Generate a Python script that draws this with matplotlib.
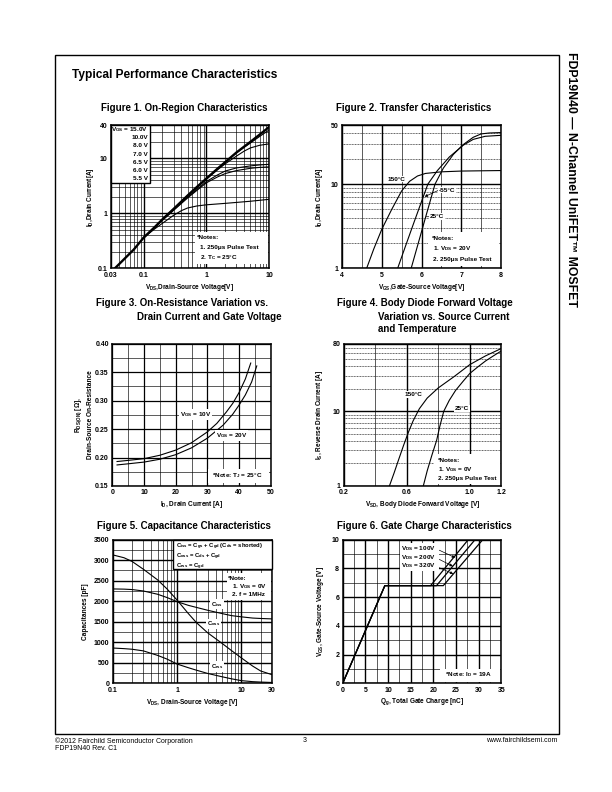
import numpy as np
import matplotlib
matplotlib.use('Agg')
import matplotlib.pyplot as plt
from matplotlib.ticker import FixedLocator, NullFormatter
from matplotlib.patches import Rectangle

plt.rcParams['font.family'] = ['Liberation Sans', 'DejaVu Sans']
plt.rcParams['font.weight'] = 'bold'
plt.rcParams['axes.labelweight'] = 'bold'
plt.rcParams['mathtext.fontset'] = 'custom'
plt.rcParams['mathtext.rm'] = 'Liberation Sans:bold'
plt.rcParams['mathtext.it'] = 'Liberation Sans:bold'
plt.rcParams['mathtext.bf'] = 'Liberation Sans:bold'
plt.rcParams['mathtext.default'] = 'rm'

# ---------------- data ----------------
# Figure 1: On-Region Characteristics
f1_vgs_labels = ['15.0V', '10.0V', '8.0 V', '7.0 V', '6.5 V', '6.0 V', '5.5 V']
f1_vds_15 = [0.035, 0.05, 0.07, 0.1, 0.15, 0.2, 0.3, 0.5, 0.7, 1, 1.5, 2, 3, 5, 7, 10]
f1_id_15 = [0.10, 0.15, 0.22, 0.36, 0.56, 0.78, 1.2, 2.1, 3.0, 4.3, 6.5, 8.6, 12.8, 20, 27, 37.5]
f1_vds_10 = [0.1, 0.2, 0.5, 1, 1.5, 2, 3, 4, 5, 7, 10]
f1_id_10 = [0.36, 0.78, 2.1, 4.3, 6.5, 8.6, 12.6, 16, 19, 25, 33]
f1_vds_8 = [0.1, 0.2, 0.5, 1, 1.5, 2, 3, 4, 5, 7, 10]
f1_id_8 = [0.36, 0.77, 2.05, 4.2, 6.2, 8.0, 11.0, 13.6, 15.5, 17.3, 18.4]
f1_vds_7 = [0.1, 0.2, 0.5, 0.7, 1, 1.5, 2, 3, 5, 7, 10]
f1_id_7 = [0.36, 0.76, 1.95, 2.7, 3.8, 5.0, 5.9, 6.7, 7.3, 7.6, 7.8]
f1_vds_65 = [0.1, 0.2, 0.5, 0.7, 1, 1.5, 2, 3, 5, 7, 10]
f1_id_65 = [0.36, 0.75, 1.9, 2.6, 3.6, 4.6, 5.3, 6.0, 6.6, 6.85, 7.0]
f1_vds_6 = [0.1, 0.15, 0.2, 0.3, 0.4, 0.5, 0.7, 1, 2, 3, 5, 10]
f1_id_6 = [0.36, 0.52, 0.66, 0.92, 1.12, 1.25, 1.36, 1.43, 1.52, 1.58, 1.66, 1.8]

# Figure 2: Transfer Characteristics
f2_vgs_150 = [4.62, 4.8, 5.0, 5.25, 5.5, 5.7, 5.9, 6.1, 6.5, 7.0, 8.0]
f2_id_150 = [1.0, 1.7, 2.9, 5.0, 8.3, 10.8, 12.5, 13.4, 14.0, 14.3, 14.5]
f2_vgs_m55 = [5.40, 5.6, 5.8, 6.0, 6.16, 6.4, 6.7, 7.05, 7.3, 7.6, 8.0]
f2_id_m55 = [1.0, 1.85, 3.4, 6.2, 10, 14.5, 21, 29, 34, 37, 38]
f2_vgs_25 = [5.74, 5.9, 6.1, 6.34, 6.55, 6.8, 7.05, 7.3, 7.5, 7.7, 8.0]
f2_id_25 = [1.0, 1.85, 4.0, 10, 15.5, 22.5, 29.5, 36, 39.5, 40.5, 41]

# Figure 3: On-Resistance vs Drain Current
f3_id_10v = [1.5, 5, 10, 15, 20, 25, 30, 33, 36, 38, 40, 42, 43.7]
f3_r_10v = [0.193, 0.195, 0.198, 0.204, 0.213, 0.226, 0.245, 0.260, 0.280, 0.295, 0.314, 0.338, 0.366]
f3_id_20v = [1.5, 5, 10, 15, 20, 25, 30, 35, 38, 40, 42, 44, 45.6]
f3_r_20v = [0.187, 0.189, 0.192, 0.197, 0.205, 0.217, 0.234, 0.257, 0.276, 0.292, 0.310, 0.333, 0.361]

# Figure 4: Body Diode Forward Voltage
f4_vsd_150 = [0.49, 0.52, 0.55, 0.58, 0.61, 0.64, 0.68, 0.73, 0.8, 0.9, 1.0, 1.1, 1.2]
f4_is_150 = [1.0, 1.5, 2.3, 3.5, 5.2, 7.4, 10.8, 15, 20.5, 29, 42, 55, 69]
f4_vsd_25 = [0.705, 0.73, 0.76, 0.79, 0.81, 0.835, 0.87, 0.91, 0.96, 1.0, 1.05, 1.1, 1.15, 1.2]
f4_is_25 = [1.0, 1.6, 2.6, 4.1, 6.3, 10, 14, 19, 25.5, 32, 39, 47, 55, 64]

# Figure 5: Capacitance Characteristics
f5_vds = [0.1, 0.15, 0.2, 0.3, 0.5, 0.7, 1, 1.5, 2, 3, 5, 7, 10, 15, 20, 30]
f5_ciss = [2300, 2295, 2285, 2250, 2170, 2090, 1990, 1900, 1850, 1780, 1700, 1650, 1620, 1590, 1580, 1570]
f5_coss = [3130, 3060, 2970, 2780, 2520, 2300, 2030, 1700, 1480, 1230, 975, 800, 620, 420, 300, 210]
f5_crss = [860, 845, 830, 790, 680, 590, 470, 380, 320, 240, 160, 110, 65, 40, 30, 20]

# Figure 6: Gate Charge
f6_qg_100 = [0, 9.3, 19.4, 27.7]
f6_vgs_100 = [0, 6.8, 6.8, 10]
f6_qg_200 = [0, 9.3, 20.7, 29.2]
f6_vgs_200 = [0, 6.8, 6.8, 10]
f6_qg_320 = [0, 9.3, 22.2, 30.9]
f6_vgs_320 = [0, 6.8, 6.8, 10]
f6_labels = ['100V', '200V', '320V']

# ---------------- layout ----------------
W, H = 612, 792
fig = plt.figure(figsize=(6.12, 7.92), dpi=100)
fig.patch.set_facecolor('white')


def rect(l, t, r, b):
    return [l / W, 1 - b / H, (r - l) / W, (b - t) / H]


def ftxt(x, y, s, **kw):
    kw.setdefault('zorder', 10)
    return fig.text(x / W, 1 - y / H, s, **kw)


def fbox(l, t, r, b, ec='none', lw=0.8):
    fig.add_artist(Rectangle((l / W, 1 - b / H), (r - l) / W, (b - t) / H,
                             transform=fig.transFigure, fc='white', ec=ec, lw=lw, zorder=9))


TICK_FS = 5.0
LAB_FS = 4.7
NOTE_FS = 4.6
TITLE_FS = 7.0


def style(ax):
    for s in ax.spines.values():
        s.set_linewidth(1.1)
        s.set_zorder(5)
    ax.tick_params(which='both', length=0, labelsize=TICK_FS, pad=2.5)
    ax.set_axisbelow(True)


# page border
fig.add_artist(Rectangle((54.5 / W, 1 - 733.5 / H), (558.5 - 54.5) / W, (733.5 - 54.5) / H,
                         transform=fig.transFigure, fill=False, ec='black', lw=1.0))
ftxt(72, 75, 'Typical Performance Characteristics', fontsize=8.6, ha='left', va='center')
ftxt(571, 52, 'FDP19N40 \u2014 N-Channel UniFET\u2122 MOSFET', fontsize=8.8, fontweight='bold',
     rotation=-90, ha='center', va='top')

# footer
ftxt(55, 741, '\u00a92012 Fairchild Semiconductor Corporation', fontsize=5, fontweight='normal', ha='left', va='center')
ftxt(55, 749, 'FDP19N40 Rev. C1', fontsize=5, fontweight='normal', ha='left', va='center')
ftxt(305, 741, '3', fontsize=5, fontweight='normal', ha='center', va='center')
ftxt(557, 741, 'www.fairchildsemi.com', fontsize=5, fontweight='normal', ha='right', va='center')

wb = dict(facecolor='white', edgecolor='none', pad=0.6)

# ---------------- Figure 1 ----------------
ftxt(184.3, 108.3, 'Figure 1. On-Region Characteristics', fontsize=TITLE_FS, ha='center', va='center')
ax1 = fig.add_axes(rect(110.7, 125.3, 269.3, 268.3))
ax1.set_xscale('log'); ax1.set_yscale('log')
ax1.set_xlim(0.03, 10); ax1.set_ylim(0.1, 40)
ax1.xaxis.set_major_locator(FixedLocator([0.03, 0.1, 1, 10]))
ax1.set_xticklabels(['0.03', '0.1', '1', '10'])
ax1.xaxis.set_minor_locator(FixedLocator([0.04, 0.05, 0.06, 0.07, 0.08, 0.09] + [0.2, 0.3, 0.4, 0.5, 0.6, 0.7, 0.8, 0.9] + [2, 3, 4, 5, 6, 7, 8, 9]))
ax1.yaxis.set_major_locator(FixedLocator([0.1, 1, 10, 40]))
ax1.set_yticklabels(['0.1', '1', '10', '40'])
ax1.yaxis.set_minor_locator(FixedLocator([0.2, 0.3, 0.4, 0.5, 0.6, 0.7, 0.8, 0.9, 2, 3, 4, 5, 6, 7, 8, 9, 20, 30]))
ax1.xaxis.set_minor_formatter(NullFormatter()); ax1.yaxis.set_minor_formatter(NullFormatter())
ax1.grid(which='major', color='black', lw=1.0)
ax1.grid(which='minor', color='black', lw=0.45)
style(ax1)
ax1.plot(f1_vds_15, f1_id_15, color='black', lw=1.7, zorder=4)
for xs, ys in [(f1_vds_10, f1_id_10), (f1_vds_8, f1_id_8), (f1_vds_7, f1_id_7),
               (f1_vds_65, f1_id_65), (f1_vds_6, f1_id_6)]:
    ax1.plot(xs, ys, color='black', lw=0.8, zorder=4)
ax1.set_xlabel('V$_{DS}$,Drain-Source Voltage[V]', fontsize=LAB_FS, labelpad=2)
ax1.set_ylabel('I$_D$,Drain Current[A]', fontsize=LAB_FS, labelpad=1)
fbox(110.7, 125.3, 149.5, 183.3, ec='black', lw=1.0)
rows = [129.3, 137.6, 145.8, 154.0, 162.2, 170.4, 178.6]
for i, (yy, lab) in enumerate(zip(rows, f1_vgs_labels)):
    s = 'V$_{GS}$ = ' + lab if i == 0 else lab
    ftxt(148, yy, s, fontsize=NOTE_FS, ha='right', va='center')
fbox(195, 232, 268, 264)
ftxt(197, 237.3, '*Notes:', fontsize=NOTE_FS, ha='left', va='center')
ftxt(200, 247.3, '1. 250\u03bcs Pulse Test', fontsize=NOTE_FS, ha='left', va='center')
ftxt(200, 257.7, '2. T$_C$ = 25\u00b0C', fontsize=NOTE_FS, ha='left', va='center')

# ---------------- Figure 2 ----------------
ftxt(414, 108.3, 'Figure 2. Transfer Characteristics', fontsize=TITLE_FS, ha='center', va='center')
ax2 = fig.add_axes(rect(342, 125.3, 501, 268.3))
ax2.set_yscale('log')
ax2.set_xlim(4, 8); ax2.set_ylim(1, 50)
ax2.xaxis.set_major_locator(FixedLocator([4, 5, 6, 7, 8]))
ax2.xaxis.set_minor_locator(FixedLocator([4.5, 5.5, 6.5, 7.5]))
ax2.yaxis.set_major_locator(FixedLocator([1, 10, 50]))
ax2.set_yticklabels(['1', '10', '50'])
ax2.yaxis.set_minor_locator(FixedLocator([2, 3, 4, 5, 6, 7, 8, 9, 20, 30, 40]))
ax2.xaxis.set_minor_formatter(NullFormatter()); ax2.yaxis.set_minor_formatter(NullFormatter())
ax2.grid(which='major', color='black', lw=1.0)
ax2.grid(which='minor', axis='x', color='black', lw=0.45)
ax2.grid(which='minor', axis='y', color='black', lw=0.45, ls=(0, (1.5, 1)))
style(ax2)
for xs, ys in [(f2_vgs_150, f2_id_150), (f2_vgs_m55, f2_id_m55), (f2_vgs_25, f2_id_25)]:
    ax2.plot(xs, ys, color='black', lw=0.8, zorder=4)
ax2.set_xlabel('V$_{GS}$,Gate-Source Voltage[V]', fontsize=LAB_FS, labelpad=2)
ax2.set_ylabel('I$_D$,Drain Current[A]', fontsize=LAB_FS, labelpad=4)
ax2.text(5.38, 11.5, '150\u00b0C', fontsize=NOTE_FS, ha='center', va='center', bbox=wb, zorder=6)
ax2.annotate('-55\u00b0C', xy=(6.08, 7.1), xytext=(6.44, 8.5), fontsize=NOTE_FS, ha='left', va='center',
             bbox=wb, zorder=6, arrowprops=dict(arrowstyle='-|>', lw=0.5, color='black', mutation_scale=4,
                                                shrinkA=0, shrinkB=0, relpos=(0, 0.5)))
ax2.annotate('25\u00b0C', xy=(6.12, 4.1), xytext=(6.22, 4.1), fontsize=NOTE_FS, ha='left', va='center',
             bbox=wb, zorder=6, arrowprops=dict(arrowstyle='-', lw=0.5, color='black', shrinkA=0, shrinkB=0,
                                                relpos=(0, 0.5)))
fbox(428, 232, 499, 266)
ftxt(431.7, 238.3, '*Notes:', fontsize=NOTE_FS, ha='left', va='center')
ftxt(433.3, 248.8, '1. V$_{DS}$ = 20V', fontsize=NOTE_FS, ha='left', va='center')
ftxt(433.3, 259, '2. 250\u03bcs Pulse Test', fontsize=NOTE_FS, ha='left', va='center')

# ---------------- Figure 3 ----------------
ftxt(96, 303, 'Figure 3. On-Resistance Variation vs.', fontsize=TITLE_FS, ha='left', va='center')
ftxt(137.3, 317, 'Drain Current and Gate Voltage', fontsize=TITLE_FS, ha='left', va='center')
ax3 = fig.add_axes(rect(112.3, 343.7, 270.7, 486))
ax3.set_xlim(0, 50); ax3.set_ylim(0.15, 0.40)
ax3.xaxis.set_major_locator(FixedLocator([0, 10, 20, 30, 40, 50]))
ax3.xaxis.set_minor_locator(FixedLocator([5, 15, 25, 35, 45]))
ax3.yaxis.set_major_locator(FixedLocator([0.15, 0.20, 0.25, 0.30, 0.35, 0.40]))
ax3.set_yticklabels(['0.15', '0.20', '0.25', '0.30', '0.35', '0.40'])
ax3.yaxis.set_minor_locator(FixedLocator([0.175, 0.225, 0.275, 0.325, 0.375]))
ax3.xaxis.set_minor_formatter(NullFormatter()); ax3.yaxis.set_minor_formatter(NullFormatter())
ax3.grid(which='major', color='black', lw=0.9)
ax3.grid(which='minor', color='black', lw=0.45)
style(ax3)
ax3.plot(f3_id_10v, f3_r_10v, color='black', lw=0.8, zorder=4)
ax3.plot(f3_id_20v, f3_r_20v, color='black', lw=0.8, zorder=4)
ax3.set_xlabel('I$_D$, Drain Current [A]', fontsize=LAB_FS, labelpad=2)
ax3.set_ylabel('R$_{DS(ON)}$ [\u03a9],\nDrain-Source On-Resistance', fontsize=LAB_FS, labelpad=1, linespacing=1.6)
ax3.text(26.3, 0.2755, 'V$_{GS}$ = 10V', fontsize=NOTE_FS, ha='center', va='center', bbox=wb, zorder=6)
ax3.text(37.7, 0.2386, 'V$_{GS}$ = 20V', fontsize=NOTE_FS, ha='center', va='center', bbox=wb, zorder=6)
fbox(208, 469, 269, 483)
ftxt(237, 475.5, '*Note: T$_J$ = 25\u00b0C', fontsize=NOTE_FS, ha='center', va='center')

# ---------------- Figure 4 ----------------
ftxt(337, 303, 'Figure 4. Body Diode Forward Voltage', fontsize=TITLE_FS, ha='left', va='center')
ftxt(378.3, 317, 'Variation vs. Source Current', fontsize=TITLE_FS, ha='left', va='center')
ftxt(378.3, 328.5, 'and Temperature', fontsize=TITLE_FS, ha='left', va='center')
ax4 = fig.add_axes(rect(343.7, 343.7, 501.3, 486))
ax4.set_yscale('log')
ax4.set_xlim(0.2, 1.2); ax4.set_ylim(1, 80)
ax4.xaxis.set_major_locator(FixedLocator([0.2, 0.6, 1.0, 1.2]))
ax4.set_xticklabels(['0.2', '0.6', '1.0', '1.2'])
ax4.xaxis.set_minor_locator(FixedLocator([0.4, 0.8]))
ax4.yaxis.set_major_locator(FixedLocator([1, 10, 80]))
ax4.set_yticklabels(['1', '10', '80'])
ax4.yaxis.set_minor_locator(FixedLocator([2, 3, 4, 5, 6, 7, 8, 9, 20, 30, 40, 50, 60, 70]))
ax4.xaxis.set_minor_formatter(NullFormatter()); ax4.yaxis.set_minor_formatter(NullFormatter())
ax4.grid(which='major', color='black', lw=1.0)
ax4.grid(which='minor', axis='x', color='black', lw=0.45)
ax4.grid(which='minor', axis='y', color='black', lw=0.45, ls=(0, (1.5, 1)))
style(ax4)
ax4.plot(f4_vsd_150, f4_is_150, color='black', lw=0.8, zorder=4)
ax4.plot(f4_vsd_25, f4_is_25, color='black', lw=0.8, zorder=4)
ax4.set_xlabel('V$_{SD}$, Body Diode Forward Voltage [V]', fontsize=LAB_FS, labelpad=2)
ax4.set_ylabel('I$_S$, Reverse Drain Current [A]', fontsize=LAB_FS, labelpad=5)
ax4.text(0.642, 16.8, '150\u00b0C', fontsize=NOTE_FS, ha='center', va='center', bbox=wb, zorder=6)
ax4.text(0.953, 10.9, '25\u00b0C', fontsize=NOTE_FS, ha='center', va='center', bbox=wb, zorder=6)
fbox(434, 454, 500, 484)
ftxt(438.3, 460, '*Notes:', fontsize=NOTE_FS, ha='left', va='center')
ftxt(438.3, 469.2, '1. V$_{GS}$ = 0V', fontsize=NOTE_FS, ha='left', va='center')
ftxt(438.3, 478.3, '2. 250\u03bcs Pulse Test', fontsize=NOTE_FS, ha='left', va='center')

# ---------------- Figure 5 ----------------
ftxt(184, 526, 'Figure 5. Capacitance Characteristics', fontsize=TITLE_FS, ha='center', va='center')
ax5 = fig.add_axes(rect(112.7, 539.7, 272, 683.3))
ax5.set_xscale('log')
ax5.set_xlim(0.1, 30); ax5.set_ylim(0, 3500)
ax5.xaxis.set_major_locator(FixedLocator([0.1, 1, 10, 30]))
ax5.set_xticklabels(['0.1', '1', '10', '30'])
ax5.xaxis.set_minor_locator(FixedLocator([0.2, 0.3, 0.4, 0.5, 0.6, 0.7, 0.8, 0.9, 2, 3, 4, 5, 6, 7, 8, 9, 20]))
ax5.yaxis.set_major_locator(FixedLocator([0, 500, 1000, 1500, 2000, 2500, 3000, 3500]))
ax5.yaxis.set_minor_locator(FixedLocator([250, 750, 1250, 1750, 2250, 2750, 3250]))
ax5.xaxis.set_minor_formatter(NullFormatter()); ax5.yaxis.set_minor_formatter(NullFormatter())
ax5.grid(which='major', color='black', lw=1.0)
ax5.grid(which='minor', color='black', lw=0.45)
style(ax5)
for ys in [f5_ciss, f5_coss, f5_crss]:
    ax5.plot(f5_vds, ys, color='black', lw=0.8, zorder=4)
ax5.set_xlabel('V$_{DS}$, Drain-Source Voltage [V]', fontsize=LAB_FS, labelpad=2)
ax5.set_ylabel('Capacitances [pF]', fontsize=LAB_FS, labelpad=3)
fbox(173.3, 539.7, 272, 569.3, ec='black', lw=1.0)
leg5 = '\n'.join(['C$_{iss}$ = C$_{gs}$ + C$_{gd}$ (C$_{ds}$ = shorted)',
                  'C$_{oss}$ = C$_{ds}$ + C$_{gd}$',
                  'C$_{rss}$ = C$_{gd}$'])
ftxt(176, 542.3, leg5, fontsize=4.2, ha='left', va='top', linespacing=0.95)
fbox(226.5, 573, 271, 600)
ftxt(228.3, 578.3, '*Note:', fontsize=NOTE_FS, ha='left', va='center')
ftxt(231.7, 586.7, '1. V$_{GS}$ = 0V', fontsize=NOTE_FS, ha='left', va='center')
ftxt(231.7, 595, '2. f = 1MHz', fontsize=NOTE_FS, ha='left', va='center')
ax5.text(4.2, 1930, 'C$_{iss}$', fontsize=NOTE_FS - 0.4, ha='center', va='center', bbox=wb, zorder=6)
ax5.text(3.65, 1450, 'C$_{oss}$', fontsize=NOTE_FS - 0.4, ha='center', va='center', bbox=wb, zorder=6)
ax5.text(4.2, 405, 'C$_{rss}$', fontsize=NOTE_FS - 0.4, ha='center', va='center', bbox=wb, zorder=6)

# ---------------- Figure 6 ----------------
ftxt(424.3, 526, 'Figure 6. Gate Charge Characteristics', fontsize=TITLE_FS, ha='center', va='center')
ax6 = fig.add_axes(rect(342.7, 539.7, 501.3, 683.3))
ax6.set_xlim(0, 35); ax6.set_ylim(0, 10)
ax6.xaxis.set_major_locator(FixedLocator([0, 5, 10, 15, 20, 25, 30, 35]))
ax6.xaxis.set_minor_locator(FixedLocator([2.5, 7.5, 12.5, 17.5, 22.5, 27.5, 32.5]))
ax6.yaxis.set_major_locator(FixedLocator([0, 2, 4, 6, 8, 10]))
ax6.yaxis.set_minor_locator(FixedLocator([1, 3, 5, 7, 9]))
ax6.xaxis.set_minor_formatter(NullFormatter()); ax6.yaxis.set_minor_formatter(NullFormatter())
ax6.grid(which='major', color='black', lw=1.0)
ax6.grid(which='minor', color='black', lw=0.45)
style(ax6)
for xs, ys in [(f6_qg_100, f6_vgs_100), (f6_qg_200, f6_vgs_200), (f6_qg_320, f6_vgs_320)]:
    ax6.plot(xs, ys, color='black', lw=0.9, zorder=4)
ax6.set_xlabel('Q$_g$, Total Gate Charge [nC]', fontsize=LAB_FS, labelpad=2)
ax6.set_ylabel('V$_{GS}$, Gate-Source Voltage [V]', fontsize=LAB_FS, labelpad=4)
ax6.add_patch(Rectangle((12.6, 7.85), 8.7, 1.95, transform=ax6.transData, fc='white', ec='none', zorder=3))
arrow_kw = dict(arrowstyle='-|>', lw=0.5, color='black', mutation_scale=4, shrinkA=1, shrinkB=0, relpos=(1.0, 0.5))
for lab, tip, ty in zip(f6_labels, [(24.8, 8.75), (24.3, 8.15), (24.4, 7.62)], [9.40, 8.77, 8.17]):
    ax6.annotate('V$_{DS}$ = ' + lab, xy=tip, xytext=(16.6, ty), fontsize=NOTE_FS, ha='center', va='center',
                 zorder=6, arrowprops=arrow_kw)
fbox(440, 669, 500, 682)
ftxt(468, 675, '*Note: I$_D$ = 19A', fontsize=NOTE_FS, ha='center', va='center')

fig.savefig('out.png', dpi=100, facecolor='white')
